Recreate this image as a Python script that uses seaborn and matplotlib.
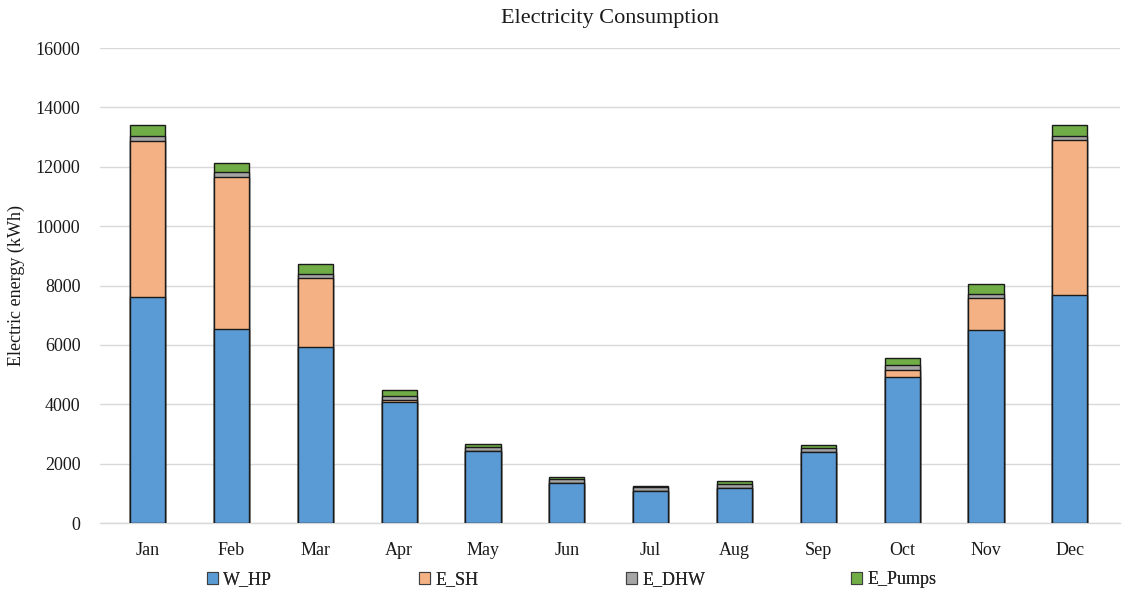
import numpy as np
import pandas as pd
import matplotlib
matplotlib.use("Agg")
import matplotlib.pyplot as plt
from matplotlib.patches import Patch
import seaborn as sns

months = ["Jan", "Feb", "Mar", "Apr", "May", "Jun", "Jul", "Aug", "Sep", "Oct", "Nov", "Dec"]
w_hp = [7610, 6550, 5930, 4060, 2420, 1345, 1075, 1180, 2390, 4930, 6490, 7680]
e_sh = [5250, 5110, 2320, 70, 0, 0, 0, 0, 0, 235, 1080, 5220]
e_dhw = [170, 170, 150, 160, 150, 145, 150, 145, 145, 145, 150, 145]
e_pumps = [390, 300, 330, 200, 100, 65, 30, 75, 100, 250, 345, 370]

series_names = ["W_HP", "E_SH", "E_DHW", "E_Pumps"]
series_colors = ["#5B9BD5", "#F4B183", "#A5A5A5", "#70AD47"]

sns.set_theme(style="white")
plt.rcParams["font.family"] = ["Liberation Serif", "DejaVu Serif"]

df = pd.DataFrame({"month": months, "W_HP": w_hp, "E_SH": e_sh,
                   "E_DHW": e_dhw, "E_Pumps": e_pumps})
cum = df[series_names].cumsum(axis=1)

fig = plt.figure(figsize=(11.36, 5.93), dpi=100)
ax = fig.add_axes([0.088, 0.118, 0.898, 0.801])

# draw stacked bars from the tallest cumulative layer down
for name, color in reversed(list(zip(series_names, series_colors))):
    sns.barplot(x=df["month"], y=cum[name], color=color, edgecolor="#1a1a1a",
                linewidth=1.0, width=0.42, saturation=1, ax=ax, zorder=3)

ax.set_ylim(0, 16000)
ax.set_xlim(-0.57, 11.6)
ax.set_yticks(np.arange(0, 16001, 2000))
ax.yaxis.grid(True, color="#d9d9d9", linewidth=1.0, zorder=0)
ax.set_axisbelow(True)
for side in ["top", "right", "left"]:
    ax.spines[side].set_visible(False)
ax.spines["bottom"].set_color("#d9d9d9")
ax.spines["bottom"].set_linewidth(1.0)
ax.tick_params(axis="y", length=0, labelsize=13, colors="#1a1a1a", pad=14)
ax.tick_params(axis="x", length=0, labelsize=13, colors="#1a1a1a", pad=14)
ax.set_xlabel("")
ax.set_ylabel("Electric energy (kWh)", fontsize=13, color="#1a1a1a", labelpad=8)
ax.set_title("Electricity Consumption", fontsize=16, color="#1a1a1a", pad=18)

# legend entries spread along the bottom edge, one small legend per series
legend_x = [0.182, 0.369, 0.551, 0.749]
for name, color, x in zip(series_names, series_colors, legend_x):
    handle = Patch(facecolor=color, edgecolor="#404040", linewidth=0.8, label=name)
    leg = fig.legend(handles=[handle], loc="center left", frameon=False,
                     fontsize=13, bbox_to_anchor=(x, 1 - 580 / 593),
                     handlelength=0.6, handleheight=0.6, handletextpad=0.3,
                     borderpad=0, borderaxespad=0)
    fig.add_artist(leg)

fig.savefig("out.png", dpi=100)
